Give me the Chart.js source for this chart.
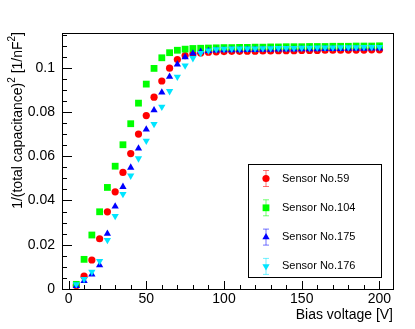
<!DOCTYPE html>
<html>
<head>
<meta charset="utf-8">
<script src="https://cdn.jsdelivr.net/npm/chart.js@4"></script>
<style>
  html, body { margin: 0; padding: 0; background: #fff; }
  canvas { display: block; }
</style>
</head>
<body>
<canvas id="cvChart" width="415" height="329"></canvas>
<script>
// Bias voltage points (V)
const voltages = [5, 10, 15, 20, 25, 30, 35, 40, 45, 50, 55, 60, 65, 70, 75, 80, 85, 90, 95, 100,
  105, 110, 115, 120, 125, 130, 135, 140, 145, 150, 155, 160, 165, 170, 175, 180, 185, 190, 195, 200];

// 1/C^2 values per sensor
const sensor59 = [0.0016, 0.0058, 0.0131, 0.0227, 0.0349, 0.0439, 0.0527, 0.0612, 0.0700, 0.0784,
  0.0867, 0.0940, 0.0998, 0.1037, 0.1055, 0.1063, 0.1067, 0.1070, 0.1072, 0.1073,
  0.1074, 0.1074, 0.1075, 0.1075, 0.1076, 0.1076, 0.1077, 0.1077, 0.1077, 0.1078,
  0.1078, 0.1078, 0.1079, 0.1079, 0.1079, 0.1080, 0.1080, 0.1080, 0.1081, 0.1081];
const sensor104 = [0.0021, 0.0134, 0.0244, 0.0349, 0.0459, 0.0555, 0.0652, 0.0747, 0.0840, 0.0926,
  0.0997, 0.1045, 0.1068, 0.1079, 0.1084, 0.1087, 0.1088, 0.1089, 0.1090, 0.1091,
  0.1091, 0.1092, 0.1092, 0.1093, 0.1093, 0.1094, 0.1094, 0.1095, 0.1095, 0.1095,
  0.1096, 0.1096, 0.1096, 0.1097, 0.1097, 0.1097, 0.1098, 0.1098, 0.1098, 0.1099];
const sensor175 = [0.0014, 0.0037, 0.0066, 0.0108, 0.0250, 0.0373, 0.0462, 0.0549, 0.0635, 0.0721,
  0.0808, 0.0888, 0.0960, 0.1015, 0.1048, 0.1065, 0.1073, 0.1076, 0.1078, 0.1079,
  0.1080, 0.1080, 0.1081, 0.1081, 0.1082, 0.1082, 0.1083, 0.1083, 0.1083, 0.1084,
  0.1084, 0.1084, 0.1085, 0.1085, 0.1085, 0.1086, 0.1086, 0.1086, 0.1087, 0.1087];
const sensor176 = [0.0021, 0.0045, 0.0078, 0.0126, 0.0221, 0.0330, 0.0429, 0.0512, 0.0590, 0.0670,
  0.0745, 0.0823, 0.0894, 0.0959, 0.1010, 0.1043, 0.1066, 0.1078, 0.1083, 0.1085,
  0.1086, 0.1086, 0.1087, 0.1087, 0.1088, 0.1088, 0.1089, 0.1089, 0.1089, 0.1090,
  0.1090, 0.1091, 0.1091, 0.1091, 0.1092, 0.1092, 0.1092, 0.1093, 0.1093, 0.1093];

const sensorNames = ['Sensor No.59', 'Sensor No.104', 'Sensor No.175', 'Sensor No.176'];

const xTicks = [0, 50, 100, 150, 200];
const yTicks = [0, 0.02, 0.04, 0.06, 0.08, 0.1];

const FONT = "'Liberation Sans', Arial, Helvetica, sans-serif";

function toPoints(ys) {
  return voltages.map((v, i) => ({ x: v, y: ys[i] }));
}

function makeSet(label, values, color, style, rotation, radius, order) {
  return {
    label: label,
    data: toPoints(values),
    showLine: false,
    pointStyle: style,
    rotation: rotation,
    pointRadius: radius,
    pointBackgroundColor: color,
    pointBorderColor: color,
    pointBorderWidth: 0,
    order: order
  };
}

// draws text made of pieces [text, size, raise], right end at (0,0)
function drawRich(ctx, parts) {
  let total = 0;
  parts.forEach(p => {
    ctx.font = p[1] + 'px ' + FONT;
    total += ctx.measureText(p[0]).width;
  });
  let x = -total;
  ctx.textAlign = 'left';
  parts.forEach(p => {
    ctx.font = p[1] + 'px ' + FONT;
    ctx.fillText(p[0], x, p[2]);
    x += ctx.measureText(p[0]).width;
  });
}

// frame, inner ticks, axis titles (ROOT-like look)
const framePlugin = {
  id: 'frame',
  afterDraw(chart) {
    const ctx = chart.ctx;
    const a = chart.chartArea;
    const xs = chart.scales.x;
    const ys = chart.scales.y;
    ctx.save();
    ctx.strokeStyle = '#000';
    ctx.lineWidth = 1;

    // x ticks, major every 50, minor every 10
    ctx.beginPath();
    for (let v = 0; v <= 200; v += 10) {
      const px = Math.round(xs.getPixelForValue(v)) + 0.5;
      const len = v % 50 === 0 ? 8 : 4;
      ctx.moveTo(px, a.bottom);
      ctx.lineTo(px, a.bottom - len);
    }
    // y ticks, major every 0.02, minor every 0.005
    for (let k = 0; k <= 23; k++) {
      const v = k * 0.005;
      if (v > ys.max) break;
      const py = Math.round(ys.getPixelForValue(v)) + 0.5;
      const len = k % 4 === 0 ? 10 : 5;
      ctx.moveTo(a.left, py);
      ctx.lineTo(a.left + len, py);
    }
    ctx.stroke();

    ctx.strokeRect(Math.round(a.left) + 0.5, Math.round(a.top) + 0.5,
      Math.round(a.right - a.left), Math.round(a.bottom - a.top));

    // axis titles
    ctx.fillStyle = '#000';
    ctx.font = '14px ' + FONT;
    ctx.textAlign = 'right';
    ctx.textBaseline = 'alphabetic';
    ctx.fillText('Bias voltage [V]', a.right, 319);

    ctx.translate(22, 32);
    ctx.rotate(-Math.PI / 2);
    drawRich(ctx, [
      ['1/(total capacitance)', 14, 0],
      ['2', 10, -7],
      [' [1/nF', 14, 0],
      ['2', 10, -7],
      [']', 14, 0]
    ]);
    ctx.restore();
  }
};

// legend box drawn inside the plot
const legendPlugin = {
  id: 'boxLegend',
  afterDraw(chart) {
    const ctx = chart.ctx;
    ctx.save();
    ctx.strokeStyle = '#000';
    ctx.lineWidth = 1;
    ctx.strokeRect(248.5, 164.5, 133, 113);
    ctx.font = '11px ' + FONT;
    ctx.textBaseline = 'middle';
    ctx.textAlign = 'left';
    chart.data.datasets.forEach((ds, i) => {
      const y = 178.5 + i * 29.3;
      const x = 266;
      // error bar glyph
      ctx.strokeStyle = ds.pointBackgroundColor;
      ctx.globalAlpha = 0.55;
      ctx.beginPath();
      ctx.moveTo(x, y - 8); ctx.lineTo(x, y + 8);
      ctx.moveTo(x - 3, y - 8); ctx.lineTo(x + 3, y - 8);
      ctx.moveTo(x - 3, y + 8); ctx.lineTo(x + 3, y + 8);
      ctx.stroke();
      ctx.globalAlpha = 1;
      ctx.fillStyle = ds.pointBackgroundColor;
      Chart.helpers.drawPoint(ctx, {
        pointStyle: ds.pointStyle,
        rotation: ds.rotation,
        radius: ds.pointRadius,
        borderWidth: 0
      }, x, y);
      ctx.fillStyle = '#000';
      ctx.fillText(ds.label, 282, y);
    });
    ctx.restore();
  }
};

new Chart(document.getElementById('cvChart'), {
  type: 'scatter',
  data: {
    datasets: [
      makeSet(sensorNames[0], sensor59, '#ff0000', 'circle', 0, 3.6, 3),
      makeSet(sensorNames[1], sensor104, '#00ff00', 'rect', 0, 4.8, 2),
      makeSet(sensorNames[2], sensor175, '#0000ff', 'triangle', 0, 4.2, 1),
      makeSet(sensorNames[3], sensor176, '#00e5ff', 'triangle', 180, 4.2, 0)
    ]
  },
  options: {
    responsive: false,
    animation: false,
    devicePixelRatio: 1,
    events: [],
    layout: { padding: { top: 33, right: 22, left: 0, bottom: 0 } },
    plugins: {
      legend: { display: false },
      tooltip: { enabled: false }
    },
    scales: {
      x: {
        type: 'linear',
        min: -4.2,
        max: 208.7,
        afterFit(s) { s.height = 40; },
        afterBuildTicks(s) { s.ticks = xTicks.map(v => ({ value: v })); },
        grid: { display: false, drawTicks: false },
        border: { display: false },
        ticks: {
          padding: 2,
          color: '#000',
          font: { family: FONT, size: 14 },
          maxRotation: 0
        }
      },
      y: {
        type: 'linear',
        min: 0,
        max: 0.1157,
        afterFit(s) { s.width = 62; },
        afterBuildTicks(s) { s.ticks = yTicks.map(v => ({ value: v })); },
        grid: { display: false, drawTicks: false },
        border: { display: false },
        ticks: {
          padding: 7,
          color: '#000',
          font: { family: FONT, size: 14 },
          callback: v => String(Math.round(v * 100) / 100)
        }
      }
    }
  },
  plugins: [framePlugin, legendPlugin]
});
</script>
</body>
</html>
